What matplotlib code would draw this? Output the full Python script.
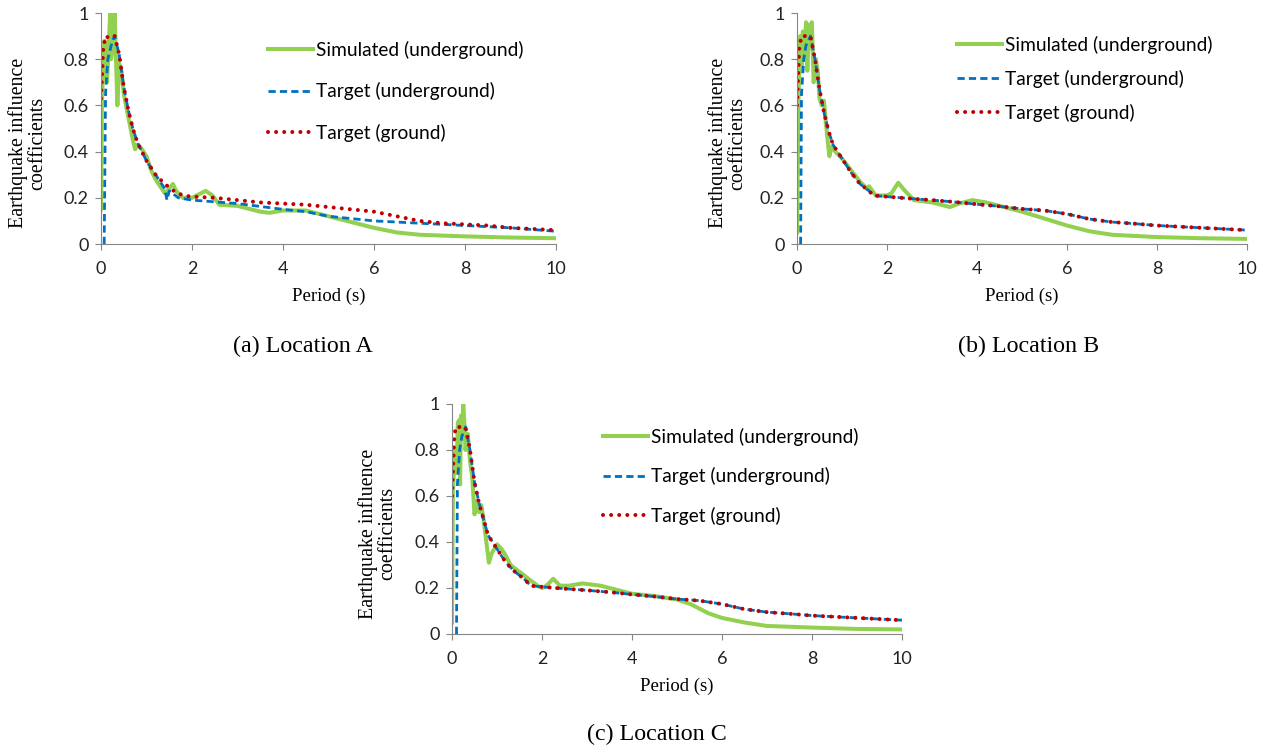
import matplotlib.pyplot as plt

# Location A
ta_sim = [0.0, 0.02, 0.05, 0.08, 0.1, 0.13, 0.17, 0.2, 0.22, 0.26, 0.3, 0.33, 0.36, 0.4, 0.45, 0.5, 0.6, 0.7,
          0.75, 0.8, 0.9, 1.0, 1.1, 1.2, 1.3, 1.4, 1.5, 1.58, 1.65, 1.8, 2.0, 2.2, 2.3, 2.45, 2.6, 3.0, 3.5, 3.7,
          4.0, 4.5, 5.0, 5.5, 6.0, 6.5, 7.0, 8.0, 9.0, 10.0]
ya_sim = [0.15, 0.6, 0.8, 0.88, 0.8, 0.7, 0.85, 1.0, 0.8, 0.85, 1.0, 0.8, 0.6, 0.78, 0.75, 0.65, 0.55, 0.45,
          0.41, 0.43, 0.41, 0.38, 0.32, 0.28, 0.25, 0.22, 0.24, 0.26, 0.23, 0.2, 0.2, 0.22, 0.23, 0.21, 0.17, 0.165, 0.14, 0.135,
          0.145, 0.145, 0.12, 0.095, 0.07, 0.05, 0.04, 0.033, 0.028, 0.025]
ta_und = [0.07, 0.1, 0.15, 0.25, 0.3, 0.4, 0.5, 0.6, 0.7, 0.8, 1.0, 1.2, 1.4, 1.45, 1.5, 1.7, 2.0, 3.0, 4.0,
          4.5, 5.0, 6.0, 7.0, 8.0, 9.0, 10.0]
ya_und = [0.0, 0.65, 0.8, 0.88, 0.9, 0.82, 0.68, 0.58, 0.5, 0.44, 0.36, 0.3, 0.24, 0.19, 0.23, 0.2, 0.19, 0.175, 0.15,
          0.14, 0.12, 0.1, 0.09, 0.08, 0.07, 0.055]
ta_gnd = [0.0, 0.05, 0.1, 0.2, 0.3, 0.4, 0.5, 0.6, 0.7, 0.8, 1.0, 1.2, 1.4, 1.6, 1.8, 2.0, 2.5, 3.0, 3.5, 4.0,
          4.5, 5.0, 5.5, 6.0, 6.5, 7.0, 7.5, 8.0, 8.5, 9.0, 9.5, 10.0]
ya_gnd = [0.63, 0.85, 0.9, 0.89, 0.9, 0.82, 0.68, 0.58, 0.5, 0.44, 0.36, 0.3, 0.26, 0.23, 0.21, 0.205, 0.2, 0.19, 0.18, 0.175,
          0.17, 0.16, 0.15, 0.14, 0.12, 0.1, 0.09, 0.085, 0.08, 0.07, 0.065, 0.06]

# Location B
tb_sim = [0.0, 0.03, 0.07, 0.1, 0.13, 0.17, 0.2, 0.23, 0.27, 0.3, 0.33, 0.37, 0.42, 0.46, 0.5, 0.55, 0.6, 0.63,
          0.68, 0.72, 0.76, 0.85, 1.0, 1.2, 1.4, 1.55, 1.6, 1.75, 2.0, 2.1, 2.25, 2.4, 2.6, 3.0, 3.4, 3.6, 3.9,
          4.2, 4.5, 5.0, 5.5, 6.0, 6.5, 7.0, 8.0, 9.0, 10.0]
yb_sim = [0.05, 0.6, 0.9, 0.75, 0.92, 0.8, 0.96, 0.75, 0.95, 0.85, 0.96, 0.7, 0.8, 0.75, 0.63, 0.6, 0.62, 0.55,
          0.45, 0.38, 0.42, 0.4, 0.37, 0.32, 0.27, 0.24, 0.25, 0.21, 0.21, 0.22, 0.265, 0.23, 0.19, 0.18, 0.16, 0.175, 0.19,
          0.18, 0.165, 0.14, 0.11, 0.08, 0.055, 0.04, 0.03, 0.025, 0.022]
tb_gnd = [0.0, 0.05, 0.1, 0.3, 0.4, 0.5, 0.6, 0.7, 0.8, 1.0, 1.2, 1.4, 1.6, 1.7, 2.0, 2.5, 3.0, 3.5, 4.0, 4.5,
          5.0, 5.5, 6.0, 6.5, 7.0, 7.5, 8.0, 8.5, 9.0, 9.5, 10.0]
yb_gnd = [0.6, 0.85, 0.9, 0.9, 0.8, 0.67, 0.57, 0.49, 0.43, 0.37, 0.31, 0.26, 0.23, 0.21, 0.205, 0.197, 0.19, 0.182, 0.172, 0.163,
          0.152, 0.145, 0.13, 0.108, 0.095, 0.088, 0.08, 0.075, 0.07, 0.065, 0.06]
tb_und = [0.08, 0.1, 0.15, 0.2, 0.3] + tb_gnd[4:]
yb_und = [0.0, 0.65, 0.8, 0.86, 0.9] + yb_gnd[4:]

# Location C
tc_sim = [0.0, 0.02, 0.06, 0.1, 0.13, 0.16, 0.18, 0.2, 0.22, 0.25, 0.28, 0.3, 0.35, 0.4, 0.45, 0.5, 0.55, 0.6,
          0.65, 0.7, 0.75, 0.82, 0.88, 1.0, 1.1, 1.2, 1.3, 1.5, 1.7, 1.9, 2.0, 2.1, 2.25, 2.4, 2.6, 2.9, 3.3, 3.7,
          4.0, 4.5, 5.0, 5.3, 5.7, 6.0, 6.5, 7.0, 8.0, 9.0, 10.0]
yc_sim = [0.05, 0.6, 0.8, 0.7, 0.92, 0.93, 0.65, 0.95, 0.85, 1.0, 0.9, 0.8, 0.87, 0.75, 0.68, 0.52, 0.58, 0.53,
          0.56, 0.5, 0.42, 0.31, 0.35, 0.39, 0.37, 0.34, 0.3, 0.27, 0.24, 0.21, 0.2, 0.21, 0.24, 0.21, 0.21, 0.22, 0.21, 0.19,
          0.175, 0.165, 0.15, 0.13, 0.09, 0.07, 0.05, 0.035, 0.028, 0.022, 0.02]
tc_gnd = [0.0, 0.05, 0.08, 0.3, 0.4, 0.5, 0.6, 0.7, 0.8, 1.0, 1.2, 1.4, 1.6, 1.75, 2.0, 2.5, 3.0, 3.5, 4.0, 4.5,
          5.0, 5.5, 6.0, 6.5, 7.0, 7.5, 8.0, 8.5, 9.0, 9.5, 10.0]
yc_gnd = [0.6, 0.85, 0.9, 0.9, 0.8, 0.66, 0.57, 0.5, 0.43, 0.37, 0.31, 0.27, 0.24, 0.21, 0.205, 0.197, 0.19, 0.182, 0.172, 0.163,
          0.152, 0.145, 0.13, 0.108, 0.095, 0.088, 0.08, 0.075, 0.07, 0.065, 0.06]
tc_und = [0.1, 0.12, 0.17, 0.22, 0.3] + tc_gnd[4:]
yc_und = [0.0, 0.65, 0.8, 0.86, 0.9] + yc_gnd[4:]

labels = ['Simulated (underground)', 'Target (underground)', 'Target (ground)']
captions = ['(a) Location A', '(b) Location B', '(c) Location C']

W, H = 1266, 751
fig = plt.figure(figsize=(W / 100, H / 100), dpi=100)

# [left px, top px, right px, bottom px]
boxes = [(101, 13, 556, 244), (797, 13, 1247, 244), (452, 404, 902, 634)]
cap_pos = [(303, 346), (1029, 346), (657, 734)]
leg_pos = [(0.367, 0.879), (0.356, 0.90), (0.336, 0.896)]
leg_space = [1.21, 0.82, 1.11]
ylab_x = [-0.119, -0.111, -0.122]
data = [(ta_sim, ya_sim, ta_und, ya_und, ta_gnd, ya_gnd),
        (tb_sim, yb_sim, tb_und, yb_und, tb_gnd, yb_gnd),
        (tc_sim, yc_sim, tc_und, yc_und, tc_gnd, yc_gnd)]

for i in range(3):
    l, t, r, b = boxes[i]
    ax = fig.add_axes([l / W, 1 - b / H, (r - l) / W, (b - t) / H])
    ts, ys, tu, yu, tg, yg = data[i]
    ax.plot(ts, ys, color='#92d050', lw=2.9, label=labels[0])
    ax.plot(tu, yu, color='#0070c0', lw=2.0, ls=(0, (2.6, 1.5)), label=labels[1])
    ax.plot(tg, yg, color='#c00000', lw=2.9, ls=(0, (0.01, 2.0)), dash_capstyle='round', label=labels[2])
    ax.set_xlim(0, 10)
    ax.set_ylim(0, 1)
    ax.set_xticks([0, 2, 4, 6, 8, 10])
    ax.set_yticks([0, 0.2, 0.4, 0.6, 0.8, 1])
    ax.set_yticklabels(['0', '0.2', '0.4', '0.6', '0.8', '1'])
    for s in ['top', 'right']:
        ax.spines[s].set_visible(False)
    for s in ['left', 'bottom']:
        ax.spines[s].set_color('#868686')
    ax.tick_params(colors='#868686', labelcolor='#222222', length=4, labelsize=13)
    ax.tick_params(axis='x', pad=8)
    ax.tick_params(axis='y', pad=5)
    for lab in ax.get_xticklabels() + ax.get_yticklabels():
        lab.set_family('Lato')
    ax.set_xlabel('Period (s)', family='Liberation Serif', fontsize=13.5, labelpad=8)
    ax.set_ylabel('Earthquake influence\ncoefficients', family='Liberation Serif', fontsize=14.4,
                  linespacing=1.0)
    ax.yaxis.set_label_coords(ylab_x[i], 0.437)
    ax.legend(loc='upper left', bbox_to_anchor=leg_pos[i], frameon=False, handlelength=2.35,
              handletextpad=0.15, labelspacing=leg_space[i], borderpad=0, borderaxespad=0,
              prop={'family': 'Lato', 'size': 13.8})
    fig.text(cap_pos[i][0] / W, 1 - cap_pos[i][1] / H, captions[i], ha='center', va='center',
             family='Liberation Serif', fontsize=17.3)

fig.savefig('out.png', dpi=100)
